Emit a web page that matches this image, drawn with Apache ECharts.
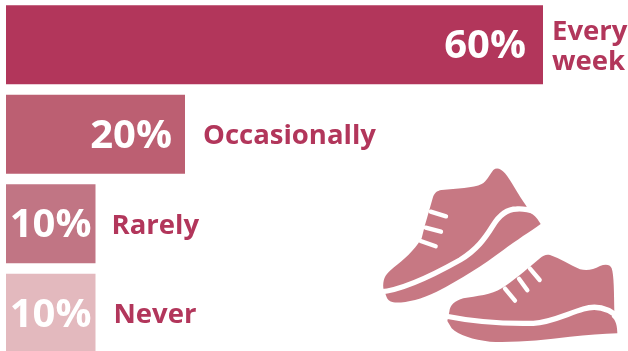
<!DOCTYPE html>
<html>
<head>
<meta charset="utf-8">
<style>
  html, body { margin: 0; padding: 0; background: #fff; }
  #chart { width: 628px; height: 351px; }
</style>
<script src="https://cdn.jsdelivr.net/npm/echarts@6/dist/echarts.min.js"></script>
</head>
<body>
<div id="chart"></div>
<script>
const categories = ['Every\nweek', 'Occasionally', 'Rarely', 'Never'];
const shares = [60, 20, 10, 10];

const barColors = ['#b2365b', '#bc5f72', '#c17584', '#e3b9be'];
const percentGaps = [17, 13, 4, 4];
const nameGaps = [9, 18, 16, 18];
const accent = '#b2365b';
const shoeColor = '#c77883';

// Running shoes drawn on a 3x design grid, placed by shoeOrigin.
const shoeOrigin = [370, 160];
const shoeBodies = [
  'M40 385C38 360 45 345 60 332C90 308 120 285 145 250L155 235L165 195L178 150L188 115C192 100 200 92 215 90C260 85 310 85 335 72C350 65 358 45 370 30C380 22 392 25 405 40C425 65 445 105 467 135L480 158C495 165 505 180 512 192C480 215 440 240 400 270C340 315 270 360 200 395C150 420 100 430 70 427C58 425 52 418 50 412Z',
  'M238 455C240 435 255 422 280 415C320 408 365 405 395 385L410 375C440 355 480 320 510 295C520 285 530 282 540 285C570 295 600 315 630 328C650 332 670 330 690 318C705 312 720 312 725 325C732 345 732 400 733 455L725 470C738 480 742 500 742 520C700 522 650 525 600 530C520 540 440 548 360 545C310 540 265 525 245 505L232 483Z'
];
const shoeSoleLines = [
  'M30 396C100 390 190 345 270 300C320 270 345 235 368 198C388 165 410 147 440 147C460 145 480 150 500 156',
  'M225 468C300 483 400 492 490 490C540 488 590 462 640 447C680 435 715 442 750 477'
];
const shoeLaces = [
  'M182 155L228 169', 'M167 203L213 215', 'M152 243L197 259',
  'M405 386L435 422', 'M447 356L472 391', 'M480 326L509 360'
];

function shoePart(pathData, style) {
  return {
    type: 'path',
    x: shoeOrigin[0],
    y: shoeOrigin[1],
    scaleX: 1 / 3,
    scaleY: 1 / 3,
    shape: { pathData: pathData },
    style: style
  };
}

const chart = echarts.init(document.getElementById('chart'), null, { renderer: 'canvas' });

chart.setOption({
  animation: false,
  backgroundColor: '#ffffff',
  grid: { left: 6, top: 0, width: 537, height: 358, outerBoundsMode: 'none' },
  xAxis: { type: 'value', min: 0, max: 60, show: false },
  yAxis: { type: 'category', inverse: true, data: categories, show: false },
  series: [
    {
      type: 'bar',
      barWidth: 79,
      data: shares.map((v, i) => ({
        value: v,
        itemStyle: { color: barColors[i] },
        label: {
          show: true,
          position: 'insideRight',
          distance: percentGaps[i],
          offset: [0, 2],
          formatter: '{c}%',
          color: '#ffffff',
          fontFamily: 'Open Sans',
          fontWeight: 'bold',
          fontSize: 40
        }
      }))
    },
    {
      type: 'bar',
      barWidth: 79,
      barGap: '-100%',
      silent: true,
      itemStyle: { color: 'transparent' },
      data: shares.map((v, i) => ({
        value: v,
        label: {
          show: true,
          position: 'right',
          distance: nameGaps[i],
          offset: [0, 2],
          formatter: categories[i],
          color: accent,
          fontFamily: 'Open Sans',
          fontWeight: 'bold',
          fontSize: 27.5,
          lineHeight: 30,
          align: 'left'
        }
      }))
    },
    {
      type: 'custom',
      coordinateSystem: 'none',
      silent: true,
      clip: false,
      data: [0],
      renderItem: function () {
        return {
          type: 'group',
          children: [
            ...shoeBodies.map(p => shoePart(p, { fill: shoeColor })),
            ...shoeSoleLines.map(p => shoePart(p, { fill: 'none', stroke: '#ffffff', lineWidth: 16 })),
            ...shoeLaces.map(p => shoePart(p, { fill: 'none', stroke: '#ffffff', lineWidth: 13, lineCap: 'round' }))
          ]
        };
      }
    }
  ]
});
</script>
</body>
</html>
